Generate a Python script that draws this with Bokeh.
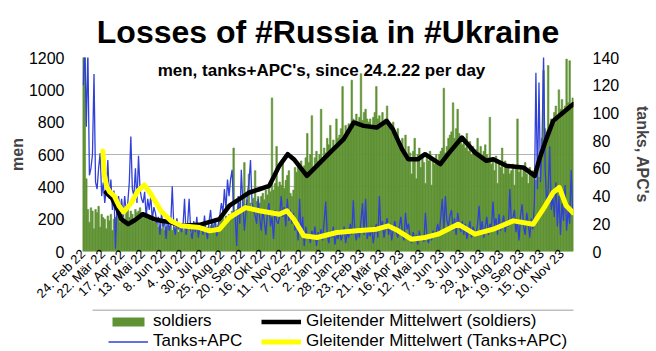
import math
from bokeh.plotting import figure
from bokeh.layouts import column
from bokeh.models import (Range1d, LinearAxis, FixedTicker, Legend, LegendItem, Label)
from bokeh.embed import file_html
from bokeh.resources import INLINE

# x tick labels (every 26 days, starting 24 Feb 2022)
tick_labels = ["24. Feb 22", "22. Mär 22", "17. Apr 22", "13. Mai 22", "8. Jun 22",
               "4. Jul 22", "30. Jul 22", "25. Aug 22", "20. Sep 22", "16. Okt 22",
               "11. Nov 22", "7. Dez 22", "2. Jan 23", "28. Jan 23", "23. Feb 23",
               "21. Mär 23", "16. Apr 23", "12. Mai 23", "7. Jun 23", "3. Jul 23",
               "29. Jul 23", "24. Aug 23", "19. Sep 23", "15. Okt 23", "10. Nov 23"]

# soldiers per day, read in 2-day steps from 24 Feb 2022
soldiers = [
    1300, 1300, 450, 260, 180, 270, 250, 140, 260, 240, 280, 150, 230,
    210, 200, 140, 220, 190, 230, 130, 200, 210,
    220, 240, 180, 230, 250, 200, 240, 260, 210, 250, 230, 190, 260, 240, 250, 270, 240,
    230, 210, 240, 200, 220, 190, 210, 180, 200,
    170, 150, 160, 140, 180, 130, 150, 160, 140, 170, 130, 150, 140, 160, 120, 150, 140,
    130, 150, 120, 160, 140, 110, 150, 170, 130, 140, 120, 160, 150, 130, 170, 140, 150,
    120, 160, 180, 150, 170, 140, 160, 190,
    190, 210, 180, 220, 200, 230, 210, 250, 640, 240, 260,
    280, 300, 260, 310, 550, 290, 320, 480, 300, 270, 330, 500, 310, 340, 300,
    340, 360, 320, 380, 350, 400, 370, 950, 380, 420, 650, 400, 430,
    410, 560, 390, 440, 470,
    500, 360, 340, 380, 520, 490, 540,
    510, 560, 490, 530, 580, 730,
    550, 600, 840, 520, 580, 620, 560,
    600, 880, 580, 640, 610, 700,
    660, 780, 620, 690, 650, 820, 700,
    720, 760, 1020, 700, 780, 740,
    790, 760, 1060, 820, 780, 850, 800,
    830, 1100, 810, 860, 880, 820,
    800, 820, 780, 830, 860, 1020, 820,
    840, 800, 860, 780, 820, 900, 790,
    780, 740, 800, 720, 700, 760,
    680, 640, 700, 620, 720, 600, 650,
    610, 480, 620, 700, 450, 600, 640, 520,
    580, 550, 420, 600, 560, 620, 410, 570, 540, 600, 560,
    600, 620, 640, 1010, 610, 650, 700,
    720, 740, 920, 700, 760, 880, 730, 690,
    660, 700, 640, 730, 620, 680, 600, 650, 620,
    630, 700, 610, 650, 590, 620, 660, 600,
    580, 830, 540, 560, 500, 590, 420, 550, 520, 640, 480, 560, 530,
    520, 480, 500, 540, 410, 520, 820, 490, 530, 460, 510, 550, 480, 420, 520, 490, 500,
    480, 440, 500, 460,
    620, 700, 1120, 760, 740, 1150, 780, 820, 800,
    860, 900, 820, 1000, 880, 940, 860, 900, 1190, 920, 1180, 880, 950,
]

# tanks + APC per day, read in 2-day steps from 24 Feb 2022
tanks = [
    120, 150, 90, 145, 55, 60, 70, 128, 50,
    45, 60, 71, 40, 50, 35,
    45, 66, 38, 52, 30, 44, 2, 35, 40,
    30, 38, 25, 40, 28, 35,
    50, 83, 45,
    40, 60, 35, 69, 45, 38,
    35, 43, 25, 38, 30, 40, 23, 32, 28,
    20, 25, 12, 28, 18, 22, 9, 26, 15, 20, 47, 18, 12, 24, 16, 20, 14,
    18, 38, 12, 20, 38, 15, 9, 22, 14, 25, 10, 18,
    20, 12, 26, 15, 9, 22, 30, 14, 18, 24, 11, 20, 26,
    35, 28, 45, 30, 52, 40, 52,
    59, 30, 25, 4, 40, 20, 59, 35, 15, 28, 42,
    50, 66, 35, 30,
    26, 20, 38, 24, 15, 30, 22, 12, 28, 35, 18, 25, 9, 30, 22, 20, 26,
    40, 25, 32, 18, 38, 22, 30, 20, 28,
    15, 22, 8, 38, 12, 25, 4, 18, 10,
    12, 6, 15, 9, 18, 4, 14, 10, 16, 8,
    22, 36, 12, 6, 15, 10, 18, 5, 13, 9,
    16, 8, 12, 18, 6, 14, 10, 20, 12, 37,
    14, 8, 16, 10, 22, 35, 12, 38, 9, 15,
    11, 18, 6, 14, 20, 10,
    40, 15, 22, 10, 18, 24, 12, 20, 8, 16,
    22, 14, 10, 18, 25, 12, 8, 28, 16, 20,
    10, 6, 14, 8, 12, 5, 15, 9, 11, 7,
    28, 10, 6, 13, 8, 15, 10,
    14, 20, 12, 25, 38, 16, 40, 22, 18, 26,
    30, 15, 24, 12, 28, 20, 14, 22,
    12, 20, 9, 16, 22, 10, 18, 14, 12,
    20, 33, 14, 22, 10, 18, 25, 12, 20, 16,
    36, 18, 24, 12, 27, 15, 20, 26, 14, 22,
    18, 45, 20, 24,
    30, 14, 22, 8, 26, 34, 18, 12, 28, 20, 10, 24, 16,
    35, 129, 45, 122,
    50, 80, 141, 60, 34, 45, 76, 30, 40,
    25, 50, 18, 40, 12, 35, 22, 48, 15, 30, 20, 59, 28,
]

# moving average (soldiers), read at day offsets
ma_soldiers_day = [30, 38, 45, 50, 59, 68, 78, 93, 102, 115, 128, 152, 178, 191, 204, 217,
                   230, 243, 256, 267, 275, 292, 305, 322, 340, 353, 366, 383, 396, 404,
                   416, 424, 437, 446, 466, 476, 494, 511, 526, 535, 552, 574, 589, 595,
                   604, 613, 626, 639]
ma_soldiers_val = [365, 330, 262, 200, 169, 195, 231, 200, 190, 180, 159, 165, 200, 284, 324, 365,
                   385, 406, 530, 602, 571, 468, 530, 612, 695, 798, 777, 767, 808, 757,
                   633, 571, 571, 602, 540, 602, 705, 612, 561, 571, 530, 520, 468, 571,
                   695, 808, 860, 911]

# moving average (tanks+APC), read at day offsets
ma_tanks_day = [26, 28, 31, 35, 41, 47, 53, 63, 72, 80, 88, 102, 115, 128, 152, 165, 178, 191,
                212, 230, 256, 266, 275, 288, 305, 331, 357, 383, 398, 411, 428, 446, 463,
                489, 511, 535, 561, 587, 600, 613, 621, 630, 639]
ma_tanks_val = [72.6, 55, 47, 43, 40, 33, 28.5, 35, 44, 48, 42, 29, 22, 18.5, 17.3, 14.9, 16.1,
                24.5, 31.7, 29.4, 26.9, 29.4, 23.3, 11.3, 10.1, 13.7, 14.9, 16.1, 18.5, 14.9,
                8.9, 10.1, 12.5, 19.7, 12.5, 16.1, 22.1, 19.7, 30.5, 42.6, 46.2, 33, 28]

STEP = 2
s_x = [STEP * i + 0.5 for i in range(len(soldiers))]
t_x = [STEP * i + 0.5 for i in range(len(tanks))]

FONT = "Liberation Sans"
GREEN = "#5f9234"
BLUE = "#3040d8"
YELLOW = "#ffff00"

# ---------------- main chart ----------------
p = figure(width=656, height=309, output_backend="svg", toolbar_location=None,
           x_range=Range1d(-0.5, 639.5), y_range=Range1d(0, 1200),
           min_border_left=82, min_border_right=83, min_border_top=57, min_border_bottom=58)
p.outline_line_color = None
p.background_fill_color = "white"

p.title.text = "Losses of #Russia in #Ukraine"
p.title.align = "center"
p.title.text_font = FONT
p.title.text_font_size = "32px"
p.title.text_font_style = "bold"
p.title.text_color = "black"
p.title.standoff = 16

ticks = [26 * i for i in range(len(tick_labels))]
xa = p.xaxis[0]
xa.ticker = FixedTicker(ticks=ticks)
xa.major_label_overrides = {t: lab for t, lab in zip(ticks, tick_labels)}
xa.major_label_orientation = math.pi / 4
xa.major_label_text_font = FONT
xa.major_label_text_font_size = "13px"
xa.major_label_text_color = "black"
xa.axis_line_color = None
xa.major_tick_line_color = None
xa.minor_tick_line_color = None
xa.major_tick_out = 0
xa.major_label_standoff = 0

ya = p.yaxis[0]
ya.ticker = FixedTicker(ticks=[0, 200, 400, 600, 800, 1000, 1200])
ya.axis_label = "men"
ya.axis_label_text_font = FONT
ya.axis_label_text_font_size = "16px"
ya.axis_label_text_font_style = "bold"
ya.axis_label_standoff = 0
ya.major_label_text_font = FONT
ya.major_label_text_font_size = "16px"
ya.major_label_text_color = "black"
ya.major_label_standoff = 12
ya.axis_line_color = None
ya.major_tick_line_color = None
ya.minor_tick_line_color = None

p.xgrid.grid_line_color = None
p.ygrid.ticker = FixedTicker(ticks=[400, 600])
p.ygrid.grid_line_color = "#b4b4b4"

p.extra_y_ranges = {"t": Range1d(0, 140)}
ra = LinearAxis(y_range_name="t", ticker=FixedTicker(ticks=[0, 20, 40, 60, 80, 100, 120, 140]))
ra.axis_label = "tanks, APC's"
ra.axis_label_text_font = FONT
ra.axis_label_text_font_size = "16px"
ra.axis_label_text_font_style = "bold"
ra.axis_label_standoff = 12
ra.major_label_text_font = FONT
ra.major_label_text_font_size = "16px"
ra.major_label_text_color = "black"
ra.major_label_standoff = 13
ra.axis_line_color = None
ra.major_tick_line_color = None
ra.minor_tick_line_color = None
p.add_layout(ra, "right")

bars = p.vbar(x=s_x, top=soldiers, width=STEP, bottom=0, fill_color=GREEN,
              line_color=GREEN, line_width=0.6)
blue = p.line(x=t_x, y=tanks, y_range_name="t", line_color=BLUE, line_width=1.3)
black = p.line(x=ma_soldiers_day, y=ma_soldiers_val, line_color="black", line_width=4.5,
               line_join="round", line_cap="round")
yellow = p.line(x=ma_tanks_day, y=ma_tanks_val, y_range_name="t", line_color=YELLOW,
                line_width=5, line_join="round", line_cap="round")

p.add_layout(Label(x=311, y=1119, text="men, tanks+APC's, since 24.2.22 per day",
                   text_font=FONT, text_font_size="17px", text_font_style="bold",
                   text_align="center", text_baseline="middle", text_color="black"))

# ---------------- legend strip (frame aligned with the chart's frame: x 82..573) ----------------
q = figure(width=656, height=42, output_backend="svg", toolbar_location=None,
           x_range=Range1d(82, 573), y_range=Range1d(0, 42),
           x_axis_location=None, y_axis_location=None,
           min_border=0)
q.outline_line_color = None
q.grid.visible = False
q.segment(x0=[92], y0=[41.5], x1=[590], y1=[41.5], line_color="#808080", line_width=1)

# off-screen stand-ins so the legend can draw its sample glyphs
lg_bar = q.vbar(x=[-1000], top=[-10], bottom=[-20], width=1, fill_color=GREEN, line_color=None)
lg_blue = q.line(x=[-1000, -999], y=[-10, -10], line_color=BLUE, line_width=1.3)
lg_black = q.line(x=[-1000, -999], y=[-10, -10], line_color="black", line_width=4.5)
lg_yellow = q.line(x=[-1000, -999], y=[-10, -10], line_color=YELLOW, line_width=5)

legend = Legend(items=[
    LegendItem(label="soldiers", renderers=[lg_bar]),
    LegendItem(label="Tanks+APC", renderers=[lg_blue]),
    LegendItem(label="Gleitender Mittelwert (soldiers)", renderers=[lg_black]),
    LegendItem(label="Gleitender Mittelwert (Tanks+APC)", renderers=[lg_yellow]),
], orientation="vertical", nrows=2)
legend.location = (26, 0)
legend.label_text_font = FONT
legend.label_text_font_size = "17px"
legend.label_text_color = "black"
legend.glyph_width = 40
legend.glyph_height = 11
legend.label_standoff = 5
legend.label_width = 108
legend.label_height = 20
legend.spacing = 0
legend.padding = 0
legend.margin = 0
legend.border_line_color = None
legend.background_fill_alpha = 0
q.add_layout(legend)

open("out.html", "w").write(file_html(column(p, q, spacing=0), INLINE))
